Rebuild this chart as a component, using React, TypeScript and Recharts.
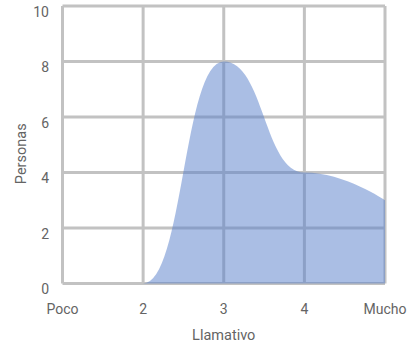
import React from 'react';
import { AreaChart, Area, XAxis, YAxis, CartesianGrid, Label } from 'recharts';

const categories = ['Poco', '2', '3', '4', 'Mucho'];
const levels = [1, 2, 3, 4, 5];
const personas = [0, 0, 8, 4, 3];
const yTicks = [0, 2, 4, 6, 8, 10];

const data = levels.map((x, i) => ({ x, label: categories[i], personas: personas[i] }));

// Smooth curve: horizontal control handles at half-segment for interior points,
// endpoints use the end point itself as control point.
class SmoothCurve {
  _context: any;
  _line: number = NaN;
  _xs: number[] = [];
  _ys: number[] = [];
  constructor(ctx: any) {
    this._context = ctx;
    this._line = undefined as any;
  }
  areaStart() { this._line = 0; }
  areaEnd() { this._line = NaN; }
  lineStart() { this._xs = []; this._ys = []; }
  point(x: number, y: number) { this._xs.push(+x); this._ys.push(+y); }
  lineEnd() {
    const xs = this._xs, ys = this._ys, n = xs.length, c = this._context;
    if (n) {
      if (this._line) c.lineTo(xs[0], ys[0]); else c.moveTo(xs[0], ys[0]);
      for (let i = 0; i < n - 1; i++) {
        const h = xs[i + 1] - xs[i];
        const c1x = i === 0 ? xs[i] : xs[i] + h / 2;
        const c2x = i + 1 === n - 1 ? xs[i + 1] : xs[i + 1] - h / 2;
        c.bezierCurveTo(c1x, ys[i], c2x, ys[i + 1], xs[i + 1], ys[i + 1]);
      }
    }
    if (this._line || (this._line !== 0 && n === 1)) c.closePath();
    this._line = 1 - this._line;
  }
}
const smoothCurve: any = (ctx: any) => new SmoothCurve(ctx);

const FONT = 'Roboto, "Noto Sans", sans-serif';
const TEXT = '#646464';
const GRID = '#c2c2c2';
const TICK_SIZE = 14;
const TITLE_SIZE = 14.5;

const YTick = (props: any) => {
  const { x, y, payload } = props;
  return (
    <text x={x} y={y + 6} dy="0.355em" textAnchor="end" fill={TEXT} fontSize={TICK_SIZE} fontFamily={FONT}>
      {payload.value}
    </text>
  );
};

const YTitle = (props: any) => {
  const { viewBox } = props;
  const cx = viewBox.x + 21;
  const cy = viewBox.y + viewBox.height / 2 + 9;
  return (
    <text x={cx} y={cy} dy="0.355em" transform={`rotate(-90, ${cx}, ${cy})`} textAnchor="middle" fill={TEXT} fontSize={TITLE_SIZE} fontFamily={FONT}>
      Personas
    </text>
  );
};

export default function App() {
  return (
    <div style={{ position: 'absolute', left: 0, top: 0 }}>
      <AreaChart width={407} height={345} data={data} margin={{ top: 6, right: 22, bottom: 0, left: 0 }}>
        <CartesianGrid stroke={GRID} strokeWidth={3} vertical horizontal />
        <XAxis
          dataKey="x"
          type="number"
          domain={[1, 5]}
          ticks={levels}
          tickFormatter={(v: number) => categories[levels.indexOf(v)]}
          axisLine={false}
          tickLine={false}
          tickSize={0}
          tickMargin={20.5}
          height={61.5}
          tick={{ fill: TEXT, fontSize: TICK_SIZE, fontFamily: FONT }}
          interval={0}
        >
          <Label value="Llamativo" position="insideBottom" offset={5.5} fill={TEXT} fontSize={TITLE_SIZE} fontFamily={FONT} />
        </XAxis>
        <YAxis
          type="number"
          domain={[0, 10]}
          ticks={yTicks}
          axisLine={false}
          tickLine={false}
          tickSize={0}
          tickMargin={13.5}
          width={62.5}
          tick={<YTick />}
          interval={0}
        >
          <Label content={<YTitle />} position="insideLeft" />
        </YAxis>
        <Area
          dataKey="personas"
          type={smoothCurve}
          stroke="none"
          fill="#567dca"
          fillOpacity={0.5}
          isAnimationActive={false}
          dot={false}
          activeDot={false}
        />
      </AreaChart>
    </div>
  );
}
